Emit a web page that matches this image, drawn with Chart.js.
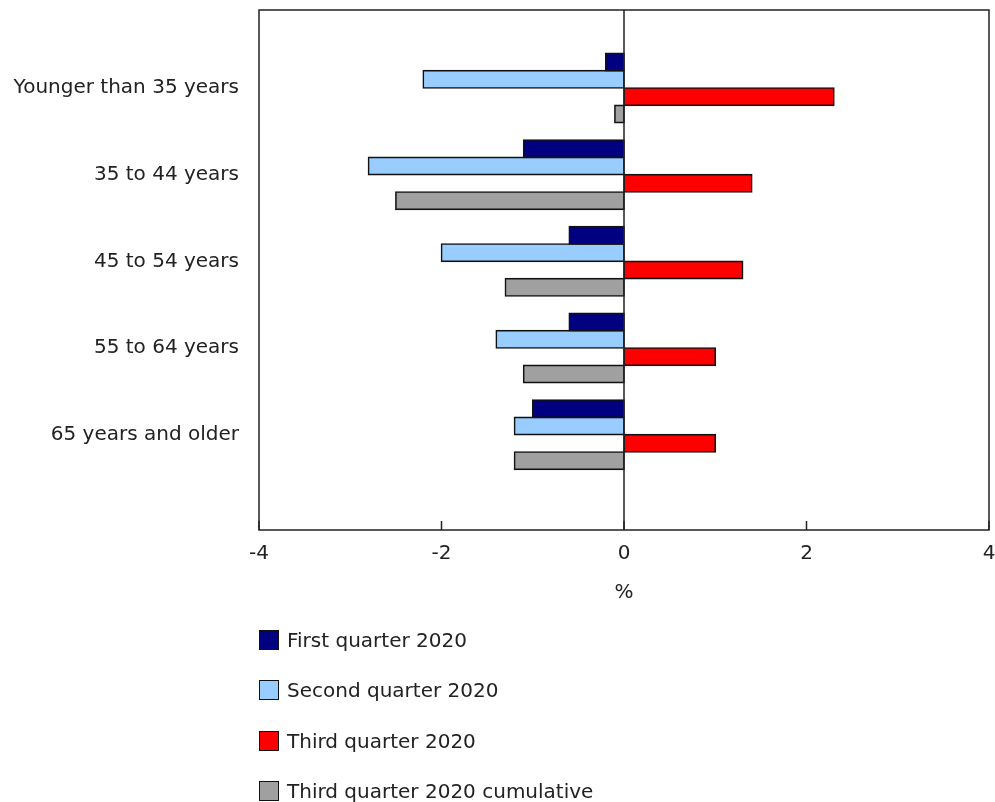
<!DOCTYPE html>
<html>
<head>
<meta charset="utf-8">
<script src="https://cdn.jsdelivr.net/npm/chart.js@4/dist/chart.umd.min.js"></script>
<style>
  html, body { margin: 0; padding: 0; background: #fff; }
  #wrap { position: relative; width: 995px; height: 802px; }
  #c { position: absolute; left: 0; top: 0; }
  .leg { position: absolute; left: 259px; height: 20px; font-family: "DejaVu Sans", Verdana, sans-serif; font-size: 20px; color: #222; display: flex; align-items: center; white-space: nowrap; }
  .leg .box { width: 18px; height: 18px; border: 1.5px solid #111; margin-right: 8px; }
</style>
</head>
<body>
<div id="wrap">
  <canvas id="c" width="995" height="802"></canvas>
  <div id="legend"></div>
</div>
<script>
const categories = ["Younger than 35 years", "35 to 44 years", "45 to 54 years", "55 to 64 years", "65 years and older"];
const seriesNames = ["First quarter 2020", "Second quarter 2020", "Third quarter 2020", "Third quarter 2020 cumulative"];
const firstQuarter = [-0.2, -1.1, -0.6, -0.6, -1.0];
const secondQuarter = [-2.2, -2.8, -2.0, -1.4, -1.2];
const thirdQuarter = [2.3, 1.4, 1.3, 1.0, 1.0];
const thirdCumulative = [-0.1, -2.5, -1.3, -1.1, -1.2];
const xTicks = [-4, -2, 0, 2, 4];
const colors = ["#000080", "#99CCFF", "#FF0000", "#A0A0A0"];

const seriesValues = [firstQuarter, secondQuarter, thirdQuarter, thirdCumulative];
const FONT = '"DejaVu Sans", Verdana, sans-serif';
const TEXT = '#222';

const datasets = seriesValues.map((vals, k) => ({
  label: seriesNames[k],
  data: vals.map((v, i) => ({ x: v, y: i })),
  backgroundColor: colors[k],
  borderColor: '#111',
  borderWidth: 1.6,
  borderSkipped: false,
  inflateAmount: 0.8,
  categoryPercentage: 0.8,
  barPercentage: 1.0
}));

const framePlugin = {
  id: 'frame',
  afterDraw(chart) {
    const { ctx, chartArea: a, scales } = chart;
    ctx.save();
    ctx.strokeStyle = TEXT;
    ctx.lineWidth = 1.5;
    ctx.strokeRect(a.left, a.top, a.right - a.left, a.bottom - a.top);
    const x0 = scales.x.getPixelForValue(0);
    ctx.beginPath();
    ctx.moveTo(x0, a.top); ctx.lineTo(x0, a.bottom);
    ctx.stroke();
    xTicks.forEach(t => {
      const px = scales.x.getPixelForValue(t);
      ctx.beginPath();
      ctx.moveTo(px, a.bottom); ctx.lineTo(px, a.bottom - 9);
      ctx.stroke();
    });
    ctx.restore();
  }
};

new Chart(document.getElementById('c'), {
  type: 'bar',
  data: { datasets },
  options: {
    indexAxis: 'y',
    responsive: false,
    animation: false,
    layout: { padding: { left: 0, top: 10, right: 6, bottom: 192 } },
    plugins: { legend: { display: false }, tooltip: { enabled: false } },
    scales: {
      x: {
        type: 'linear',
        offset: false,
        min: -4, max: 4,
        afterBuildTicks: s => { s.ticks = xTicks.map(v => ({ value: v })); },
        afterFit: s => { s.height = 80; s.paddingLeft = 0; s.paddingRight = 0; },
        grid: { display: false, drawTicks: false, offset: false },
        border: { display: false },
        ticks: { color: TEXT, font: { family: FONT, size: 20 }, padding: 12, maxRotation: 0 },
        title: { display: true, text: '%', color: TEXT, font: { family: FONT, size: 20 }, padding: { top: 0, bottom: 5 } }
      },
      y: {
        type: 'linear',
        offset: false,
        reverse: true,
        min: -0.9, max: 5.1,
        afterBuildTicks: s => { s.ticks = categories.map((c, i) => ({ value: i })); },
        afterFit: s => { s.width = 259; s.paddingTop = 0; s.paddingBottom = 0; },
        grid: { display: false, drawTicks: false, offset: false },
        border: { display: false },
        ticks: { color: TEXT, font: { family: FONT, size: 20 }, padding: 20, autoSkip: false, callback: v => categories[v] }
      }
    }
  },
  plugins: [framePlugin]
});

const legend = document.getElementById('legend');
const legTops = [630, 680, 731, 781];
seriesNames.forEach((name, k) => {
  const d = document.createElement('div');
  d.className = 'leg';
  d.style.top = legTops[k] + 'px';
  const b = document.createElement('span');
  b.className = 'box';
  b.style.background = colors[k];
  const t = document.createElement('span');
  t.textContent = name;
  d.appendChild(b); d.appendChild(t);
  legend.appendChild(d);
});
</script>
</body>
</html>
